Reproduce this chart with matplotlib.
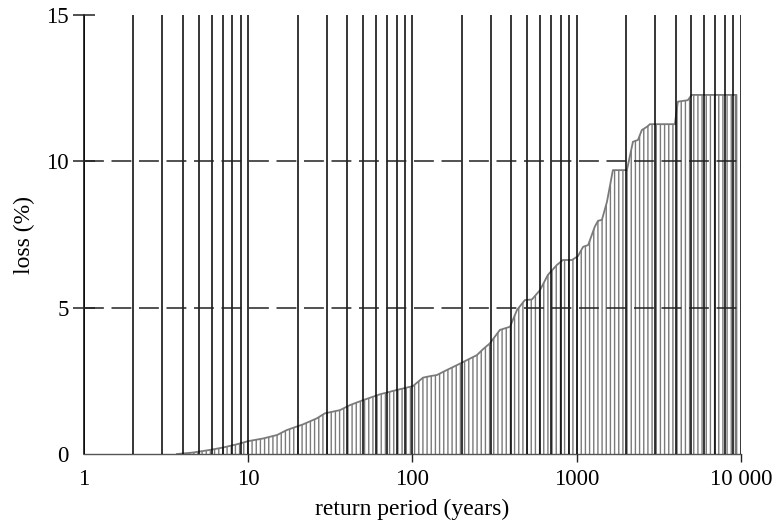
import numpy as np
import matplotlib
matplotlib.use("Agg")
import matplotlib.pyplot as plt
from matplotlib.ticker import LogLocator, FixedLocator, NullFormatter

plt.rcParams['font.family'] = ['Liberation Serif', 'DejaVu Serif']
plt.rcParams['hatch.linewidth'] = 1.0

# exceedance curve
return_period = [3.68, 4.6, 5.85, 7.0, 8.5, 10, 12.3, 15, 17.2, 21.5,
                 26.2, 29.3, 36.2, 41.6, 50, 63.4, 80.5, 100.7, 116, 128,
                 141, 162, 187, 215, 247, 269, 296, 341, 393, 433,
                 484, 534, 598, 668, 758, 825, 936, 1018, 1095, 1175,
                 1290, 1350, 1425, 1530, 1662, 2023, 2202, 2362, 2494, 2677,
                 2793, 3963, 4133, 4753, 5017, 9400]
loss = [0, 0.05, 0.14, 0.22, 0.33, 0.44, 0.53, 0.65, 0.82, 1.01,
        1.22, 1.39, 1.50, 1.67, 1.84, 2.04, 2.19, 2.32, 2.61, 2.66,
        2.70, 2.87, 3.04, 3.21, 3.38, 3.58, 3.78, 4.24, 4.35, 4.92,
        5.26, 5.28, 5.60, 6.12, 6.46, 6.63, 6.63, 6.76, 7.08, 7.14,
        7.77, 7.97, 8.0, 8.62, 9.70, 9.70, 10.67, 10.73, 11.07, 11.18,
        11.27, 11.27, 12.04, 12.09, 12.27, 12.27]

x_ticks = [1, 10, 100, 1000, 10000]
x_labels = ['1', '10', '100', '1000', '10 000']
y_ticks = [0, 5, 10, 15]
dashed_levels = [5, 10]

fig = plt.figure(figsize=(7.74, 5.25), dpi=100)
ax = fig.add_axes([0.1085, 0.1352, 0.8487, 0.8362])

ax.fill_between(return_period, 0, loss, facecolor='none', edgecolor='#7a7a7a',
                hatch='||||', linewidth=0, zorder=1)
ax.plot(return_period + [return_period[-1]], loss + [0], color='#7a7a7a', lw=1.3, zorder=1.2)

for lev in dashed_levels:
    ax.axhline(lev, color='#222222', lw=1.1, linestyle=(0, (13, 5)), zorder=3)

ax.set_xscale('log')
ax.set_xlim(1, 10000)
ax.set_ylim(0, 15)

ax.xaxis.set_major_locator(FixedLocator(x_ticks))
ax.set_xticklabels(x_labels)
ax.xaxis.set_minor_locator(LogLocator(base=10, subs=np.arange(2, 10)))
ax.xaxis.set_minor_formatter(NullFormatter())
ax.set_yticks(y_ticks)

ax.grid(which='both', axis='x', color='black', lw=1.1, zorder=2.5)
ax.set_axisbelow(False)

ax.tick_params(axis='x', which='major', direction='out', length=6, width=1,
               labelsize=16.5, pad=5, color='#222222')
ax.tick_params(axis='x', which='minor', length=0)
ax.tick_params(axis='y', direction='inout', length=16, width=1.1,
               labelsize=16.5, pad=3, color='#222222')
ax.xaxis.get_major_ticks()[0].tick1line.set_visible(False)
ax.yaxis.get_major_ticks()[0].tick1line.set_visible(False)

for s in ['top', 'right']:
    ax.spines[s].set_visible(False)
ax.spines['left'].set_color('black')
ax.spines['left'].set_linewidth(1.1)
ax.spines['bottom'].set_color('#555555')
ax.spines['bottom'].set_linewidth(1.0)

ax.set_xlabel('return period (years)', fontsize=17, labelpad=6)
ax.set_ylabel('loss (%)', fontsize=17, labelpad=8)

fig.savefig('out.png', dpi=100)
